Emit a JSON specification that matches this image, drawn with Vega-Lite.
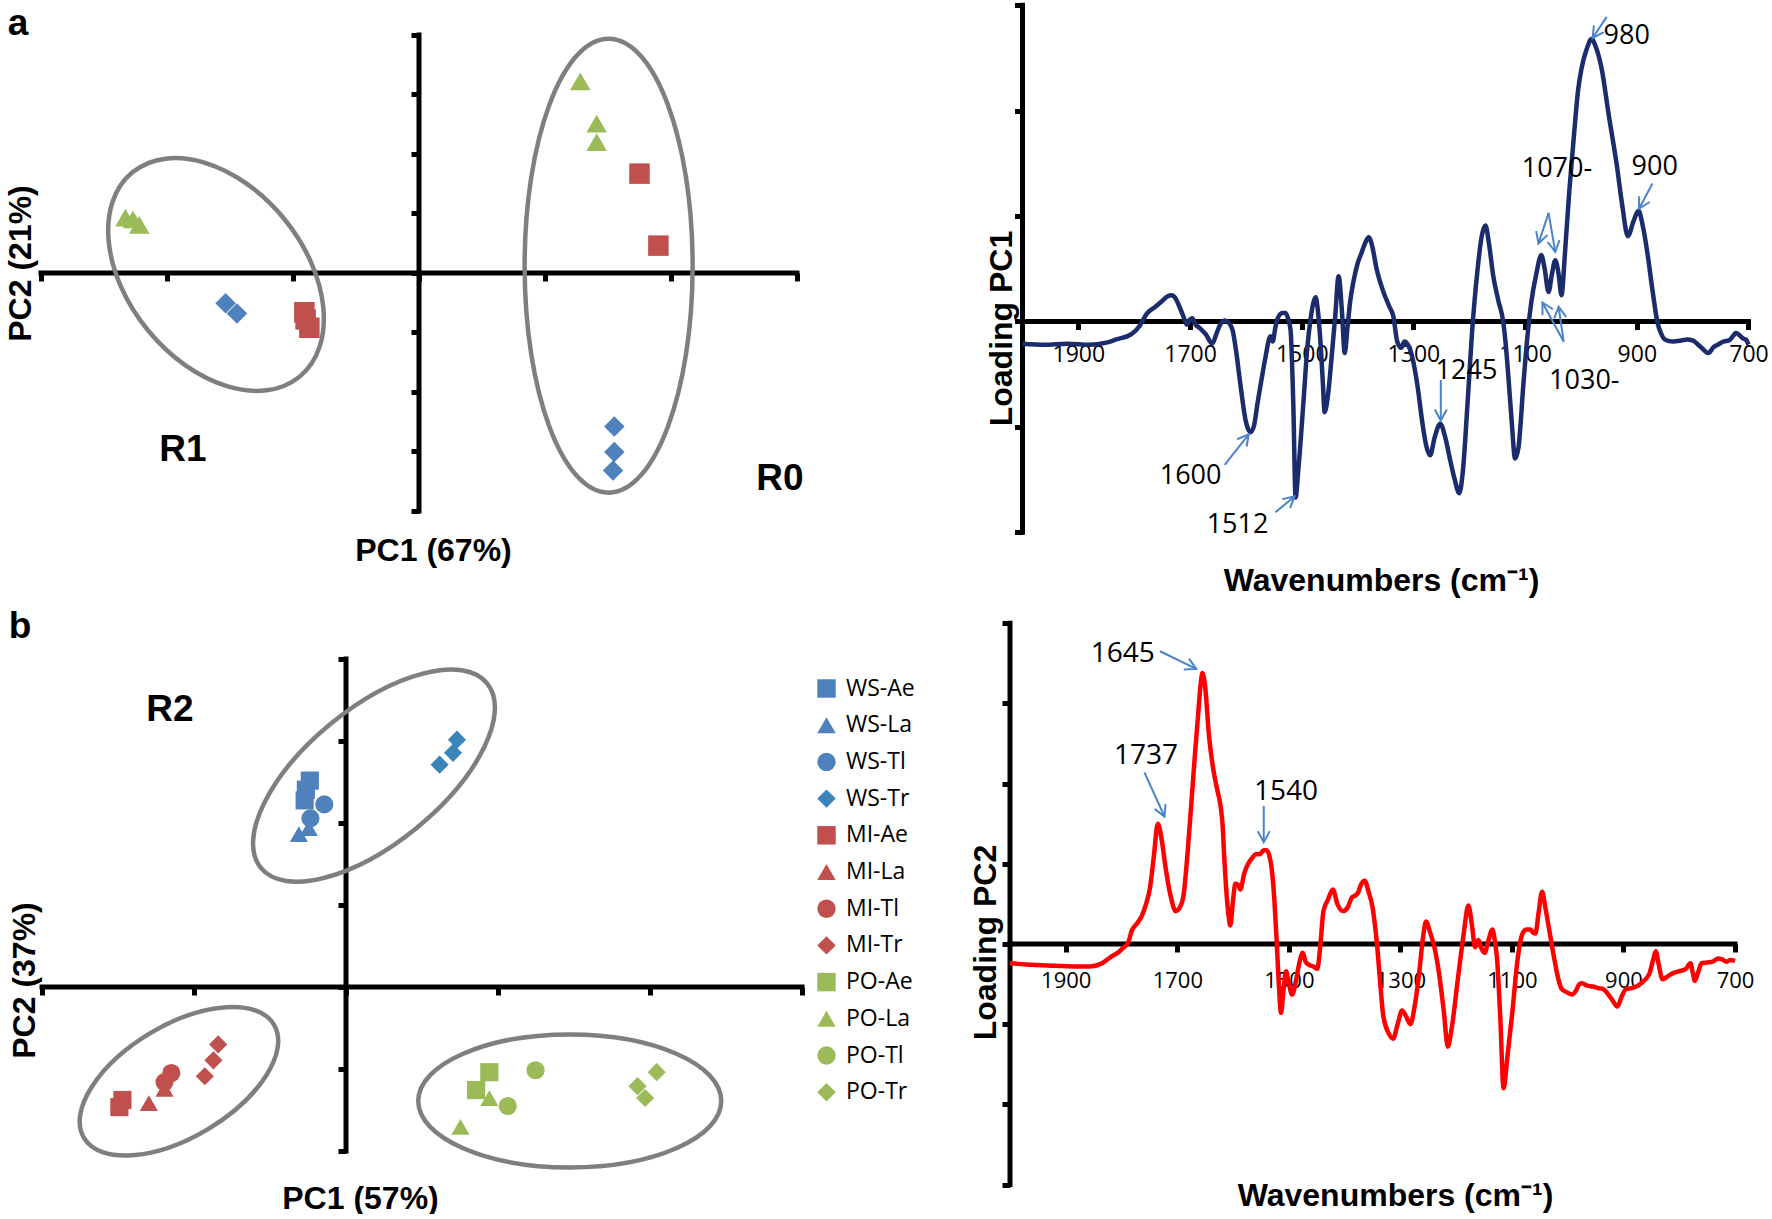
{
  "$schema": "https://vega.github.io/schema/vega-lite/v6.json",
  "background": "white",
  "padding": 0,
  "columns": 2,
  "bounds": "flush",
  "align": "each",
  "spacing": {"row": 75, "column": 195},
  "resolve": {"scale": {"color": "independent", "shape": "independent"}},
  "config": {"view": {"stroke": null}, "axis": {"grid": false}},
  "datasets": {
    "pcaA": [
      {"marker": "triangle", "pc1": -2.33, "pc2": 0.93},
      {"marker": "triangle", "pc1": -2.27, "pc2": 0.90},
      {"marker": "triangle", "pc1": -2.22, "pc2": 0.81},
      {"marker": "diamond", "pc1": -1.535, "pc2": -0.51},
      {"marker": "diamond", "pc1": -1.445, "pc2": -0.68},
      {"marker": "square", "pc1": -0.91, "pc2": -0.66},
      {"marker": "square", "pc1": -0.90, "pc2": -0.78},
      {"marker": "square", "pc1": -0.87, "pc2": -0.92},
      {"marker": "triangle", "pc1": 1.28, "pc2": 3.22},
      {"marker": "triangle", "pc1": 1.41, "pc2": 2.51},
      {"marker": "triangle", "pc1": 1.41, "pc2": 2.20},
      {"marker": "square", "pc1": 1.75, "pc2": 1.67},
      {"marker": "square", "pc1": 1.90, "pc2": 0.46},
      {"marker": "diamond", "pc1": 1.55, "pc2": -2.58},
      {"marker": "diamond", "pc1": 1.55, "pc2": -3.01},
      {"marker": "diamond", "pc1": 1.54, "pc2": -3.32}
    ],
    "pcaB": [
      {"series": "WS-Ae", "pc1": -0.238, "pc2": 2.517},
      {"series": "WS-Ae", "pc1": -0.264, "pc2": 2.406},
      {"series": "WS-Ae", "pc1": -0.272, "pc2": 2.276},
      {"series": "WS-La", "pc1": -0.310, "pc2": 1.865},
      {"series": "WS-La", "pc1": -0.245, "pc2": 1.937},
      {"series": "WS-Tl", "pc1": -0.143, "pc2": 2.227},
      {"series": "WS-Tl", "pc1": -0.234, "pc2": 2.057},
      {"series": "WS-Tr", "pc1": 0.730, "pc2": 3.016},
      {"series": "WS-Tr", "pc1": 0.704, "pc2": 2.856},
      {"series": "WS-Tr", "pc1": 0.616, "pc2": 2.711},
      {"series": "MI-Ae", "pc1": -1.471, "pc2": -1.378},
      {"series": "MI-Ae", "pc1": -1.491, "pc2": -1.465},
      {"series": "MI-La", "pc1": -1.297, "pc2": -1.417},
      {"series": "MI-La", "pc1": -1.194, "pc2": -1.243},
      {"series": "MI-Tl", "pc1": -1.149, "pc2": -1.049},
      {"series": "MI-Tl", "pc1": -1.194, "pc2": -1.160},
      {"series": "MI-Tr", "pc1": -0.841, "pc2": -0.700},
      {"series": "MI-Tr", "pc1": -0.872, "pc2": -0.894},
      {"series": "MI-Tr", "pc1": -0.929, "pc2": -1.088},
      {"series": "PO-Ae", "pc1": 0.943, "pc2": -1.039},
      {"series": "PO-Ae", "pc1": 0.856, "pc2": -1.257},
      {"series": "PO-La", "pc1": 0.753, "pc2": -1.707},
      {"series": "PO-La", "pc1": 0.943, "pc2": -1.354},
      {"series": "PO-Tl", "pc1": 1.247, "pc2": -1.015},
      {"series": "PO-Tl", "pc1": 1.064, "pc2": -1.451},
      {"series": "PO-Tr", "pc1": 2.044, "pc2": -1.039},
      {"series": "PO-Tr", "pc1": 1.918, "pc2": -1.209},
      {"series": "PO-Tr", "pc1": 1.968, "pc2": -1.354}
    ],
    "specA": [
      {"wn": 2000, "v": -0.21}, {"wn": 1960, "v": -0.22}, {"wn": 1920, "v": -0.21}, {"wn": 1880, "v": -0.22},
      {"wn": 1850, "v": -0.20}, {"wn": 1832, "v": -0.17}, {"wn": 1805, "v": -0.12}, {"wn": 1790, "v": -0.04},
      {"wn": 1778, "v": 0.07}, {"wn": 1762, "v": 0.14}, {"wn": 1751, "v": 0.19}, {"wn": 1740, "v": 0.24},
      {"wn": 1733, "v": 0.25}, {"wn": 1726, "v": 0.22}, {"wn": 1719, "v": 0.14}, {"wn": 1712, "v": 0.05},
      {"wn": 1706, "v": -0.03}, {"wn": 1700, "v": 0.02}, {"wn": 1696, "v": 0.03}, {"wn": 1690, "v": -0.03},
      {"wn": 1683, "v": -0.06}, {"wn": 1672, "v": -0.12}, {"wn": 1660, "v": -0.21}, {"wn": 1653, "v": -0.12},
      {"wn": 1647, "v": -0.04}, {"wn": 1638, "v": 0.01}, {"wn": 1633, "v": 0.0}, {"wn": 1624, "v": -0.08},
      {"wn": 1617, "v": -0.30}, {"wn": 1610, "v": -0.59}, {"wn": 1600, "v": -0.95}, {"wn": 1592, "v": -1.05},
      {"wn": 1586, "v": -1.00}, {"wn": 1579, "v": -0.77}, {"wn": 1572, "v": -0.55}, {"wn": 1565, "v": -0.34},
      {"wn": 1556, "v": -0.14}, {"wn": 1552, "v": -0.19}, {"wn": 1547, "v": -0.05}, {"wn": 1543, "v": 0.03},
      {"wn": 1535, "v": 0.08}, {"wn": 1529, "v": 0.08}, {"wn": 1524, "v": 0.02}, {"wn": 1520, "v": -0.08},
      {"wn": 1515, "v": -0.80}, {"wn": 1511, "v": -1.67}, {"wn": 1506, "v": -1.40}, {"wn": 1497, "v": -0.77},
      {"wn": 1490, "v": -0.25}, {"wn": 1484, "v": 0.03}, {"wn": 1478, "v": 0.20}, {"wn": 1475, "v": 0.23},
      {"wn": 1471, "v": 0.10}, {"wn": 1466, "v": -0.23}, {"wn": 1462, "v": -0.60}, {"wn": 1459, "v": -0.86},
      {"wn": 1453, "v": -0.70}, {"wn": 1447, "v": -0.37}, {"wn": 1440, "v": 0.05}, {"wn": 1434, "v": 0.43},
      {"wn": 1428, "v": 0.10}, {"wn": 1423, "v": -0.30}, {"wn": 1418, "v": -0.05}, {"wn": 1413, "v": 0.20},
      {"wn": 1407, "v": 0.39}, {"wn": 1400, "v": 0.55}, {"wn": 1393, "v": 0.65}, {"wn": 1386, "v": 0.75},
      {"wn": 1380, "v": 0.80}, {"wn": 1374, "v": 0.72}, {"wn": 1366, "v": 0.50}, {"wn": 1355, "v": 0.30},
      {"wn": 1343, "v": 0.14}, {"wn": 1336, "v": 0.05}, {"wn": 1329, "v": -0.19}, {"wn": 1322, "v": -0.25},
      {"wn": 1316, "v": -0.19}, {"wn": 1310, "v": -0.22}, {"wn": 1302, "v": -0.34}, {"wn": 1293, "v": -0.60},
      {"wn": 1284, "v": -0.96}, {"wn": 1277, "v": -1.18}, {"wn": 1270, "v": -1.27}, {"wn": 1262, "v": -1.10},
      {"wn": 1252, "v": -0.97}, {"wn": 1243, "v": -1.10}, {"wn": 1234, "v": -1.32}, {"wn": 1226, "v": -1.50},
      {"wn": 1218, "v": -1.63}, {"wn": 1212, "v": -1.45}, {"wn": 1203, "v": -0.77}, {"wn": 1195, "v": -0.10},
      {"wn": 1185, "v": 0.50}, {"wn": 1178, "v": 0.80}, {"wn": 1171, "v": 0.91}, {"wn": 1165, "v": 0.75},
      {"wn": 1157, "v": 0.43}, {"wn": 1148, "v": 0.20}, {"wn": 1139, "v": -0.01}, {"wn": 1135, "v": -0.20},
      {"wn": 1130, "v": -0.52}, {"wn": 1124, "v": -0.95}, {"wn": 1118, "v": -1.30}, {"wn": 1112, "v": -1.20},
      {"wn": 1103, "v": -0.59}, {"wn": 1096, "v": -0.15}, {"wn": 1089, "v": 0.18}, {"wn": 1080, "v": 0.45},
      {"wn": 1071, "v": 0.63}, {"wn": 1065, "v": 0.50}, {"wn": 1058, "v": 0.28}, {"wn": 1052, "v": 0.45},
      {"wn": 1046, "v": 0.58}, {"wn": 1040, "v": 0.45}, {"wn": 1035, "v": 0.25}, {"wn": 1028, "v": 0.70},
      {"wn": 1021, "v": 1.23}, {"wn": 1012, "v": 1.80}, {"wn": 1005, "v": 2.20}, {"wn": 999, "v": 2.40},
      {"wn": 990, "v": 2.58}, {"wn": 981, "v": 2.68}, {"wn": 973, "v": 2.60}, {"wn": 963, "v": 2.40},
      {"wn": 950, "v": 1.95}, {"wn": 936, "v": 1.49}, {"wn": 926, "v": 1.10}, {"wn": 916, "v": 0.81},
      {"wn": 906, "v": 0.95}, {"wn": 897, "v": 1.05}, {"wn": 889, "v": 0.90}, {"wn": 881, "v": 0.65},
      {"wn": 872, "v": 0.30}, {"wn": 863, "v": -0.01}, {"wn": 856, "v": -0.12}, {"wn": 850, "v": -0.17},
      {"wn": 835, "v": -0.19}, {"wn": 820, "v": -0.18}, {"wn": 810, "v": -0.17}, {"wn": 800, "v": -0.18},
      {"wn": 790, "v": -0.22}, {"wn": 780, "v": -0.27}, {"wn": 772, "v": -0.30}, {"wn": 762, "v": -0.24},
      {"wn": 755, "v": -0.22}, {"wn": 745, "v": -0.19}, {"wn": 735, "v": -0.18}, {"wn": 728, "v": -0.14},
      {"wn": 723, "v": -0.11}, {"wn": 716, "v": -0.13}, {"wn": 710, "v": -0.16}, {"wn": 705, "v": -0.17},
      {"wn": 700, "v": -0.22}
    ],
    "specB": [
      {"wn": 2000, "v": -0.24}, {"wn": 1960, "v": -0.26}, {"wn": 1920, "v": -0.27}, {"wn": 1880, "v": -0.28},
      {"wn": 1856, "v": -0.28}, {"wn": 1835, "v": -0.24}, {"wn": 1819, "v": -0.16}, {"wn": 1805, "v": -0.10},
      {"wn": 1796, "v": -0.04}, {"wn": 1788, "v": 0.02}, {"wn": 1782, "v": 0.16}, {"wn": 1772, "v": 0.26},
      {"wn": 1763, "v": 0.36}, {"wn": 1756, "v": 0.50}, {"wn": 1749, "v": 0.70}, {"wn": 1742, "v": 1.10},
      {"wn": 1735, "v": 1.50}, {"wn": 1728, "v": 1.30}, {"wn": 1721, "v": 0.95}, {"wn": 1712, "v": 0.60},
      {"wn": 1703, "v": 0.41}, {"wn": 1696, "v": 0.45}, {"wn": 1689, "v": 0.60}, {"wn": 1682, "v": 1.10},
      {"wn": 1675, "v": 1.74}, {"wn": 1668, "v": 2.40}, {"wn": 1663, "v": 2.83}, {"wn": 1658, "v": 3.25},
      {"wn": 1655, "v": 3.38}, {"wn": 1650, "v": 3.20}, {"wn": 1643, "v": 2.58}, {"wn": 1636, "v": 2.20},
      {"wn": 1629, "v": 1.94}, {"wn": 1622, "v": 1.70}, {"wn": 1619, "v": 1.50}, {"wn": 1616, "v": 1.10},
      {"wn": 1613, "v": 0.75}, {"wn": 1608, "v": 0.35}, {"wn": 1605, "v": 0.23}, {"wn": 1600, "v": 0.55},
      {"wn": 1596, "v": 0.75}, {"wn": 1591, "v": 0.74}, {"wn": 1587, "v": 0.68}, {"wn": 1580, "v": 0.88},
      {"wn": 1573, "v": 1.00}, {"wn": 1566, "v": 1.07}, {"wn": 1559, "v": 1.12}, {"wn": 1552, "v": 1.12},
      {"wn": 1545, "v": 1.17}, {"wn": 1540, "v": 1.17}, {"wn": 1535, "v": 1.10}, {"wn": 1531, "v": 0.95},
      {"wn": 1526, "v": 0.55}, {"wn": 1522, "v": 0.06}, {"wn": 1518, "v": -0.50}, {"wn": 1514, "v": -0.86},
      {"wn": 1510, "v": -0.60}, {"wn": 1505, "v": -0.34}, {"wn": 1500, "v": -0.50}, {"wn": 1494, "v": -0.63},
      {"wn": 1487, "v": -0.45}, {"wn": 1480, "v": -0.20}, {"wn": 1475, "v": -0.11}, {"wn": 1470, "v": -0.22},
      {"wn": 1464, "v": -0.26}, {"wn": 1456, "v": -0.28}, {"wn": 1449, "v": -0.31}, {"wn": 1444, "v": -0.05},
      {"wn": 1438, "v": 0.41}, {"wn": 1430, "v": 0.55}, {"wn": 1421, "v": 0.68}, {"wn": 1413, "v": 0.50},
      {"wn": 1403, "v": 0.41}, {"wn": 1395, "v": 0.45}, {"wn": 1387, "v": 0.58}, {"wn": 1382, "v": 0.60},
      {"wn": 1376, "v": 0.64}, {"wn": 1370, "v": 0.75}, {"wn": 1364, "v": 0.79}, {"wn": 1357, "v": 0.65},
      {"wn": 1350, "v": 0.46}, {"wn": 1342, "v": 0.00}, {"wn": 1336, "v": -0.50}, {"wn": 1331, "v": -0.88},
      {"wn": 1322, "v": -1.10}, {"wn": 1313, "v": -1.18}, {"wn": 1305, "v": -1.00}, {"wn": 1297, "v": -0.83},
      {"wn": 1290, "v": -0.90}, {"wn": 1282, "v": -1.00}, {"wn": 1275, "v": -0.80}, {"wn": 1266, "v": -0.34},
      {"wn": 1260, "v": 0.05}, {"wn": 1254, "v": 0.28}, {"wn": 1247, "v": 0.15}, {"wn": 1239, "v": -0.04},
      {"wn": 1230, "v": -0.40}, {"wn": 1222, "v": -0.85}, {"wn": 1215, "v": -1.28}, {"wn": 1208, "v": -1.05},
      {"wn": 1197, "v": -0.44}, {"wn": 1187, "v": 0.10}, {"wn": 1178, "v": 0.48}, {"wn": 1172, "v": 0.25},
      {"wn": 1166, "v": -0.04}, {"wn": 1160, "v": 0.05}, {"wn": 1155, "v": -0.05}, {"wn": 1149, "v": -0.11},
      {"wn": 1142, "v": 0.05}, {"wn": 1135, "v": 0.18}, {"wn": 1131, "v": 0.05}, {"wn": 1127, "v": -0.16},
      {"wn": 1121, "v": -0.90}, {"wn": 1115, "v": -1.80}, {"wn": 1108, "v": -1.40}, {"wn": 1099, "v": -0.83},
      {"wn": 1090, "v": -0.20}, {"wn": 1081, "v": 0.13}, {"wn": 1074, "v": 0.18}, {"wn": 1067, "v": 0.18},
      {"wn": 1062, "v": 0.14}, {"wn": 1058, "v": 0.13}, {"wn": 1052, "v": 0.40}, {"wn": 1046, "v": 0.65},
      {"wn": 1040, "v": 0.45}, {"wn": 1034, "v": 0.21}, {"wn": 1025, "v": -0.15}, {"wn": 1018, "v": -0.40},
      {"wn": 1011, "v": -0.56}, {"wn": 1002, "v": -0.60}, {"wn": 992, "v": -0.63}, {"wn": 985, "v": -0.58},
      {"wn": 979, "v": -0.50}, {"wn": 974, "v": -0.49}, {"wn": 965, "v": -0.52}, {"wn": 955, "v": -0.53},
      {"wn": 945, "v": -0.55}, {"wn": 937, "v": -0.56}, {"wn": 925, "v": -0.65}, {"wn": 918, "v": -0.72},
      {"wn": 911, "v": -0.78}, {"wn": 903, "v": -0.65}, {"wn": 895, "v": -0.56}, {"wn": 885, "v": -0.55},
      {"wn": 872, "v": -0.51}, {"wn": 862, "v": -0.45}, {"wn": 853, "v": -0.36}, {"wn": 847, "v": -0.20},
      {"wn": 842, "v": -0.09}, {"wn": 837, "v": -0.25}, {"wn": 830, "v": -0.44}, {"wn": 820, "v": -0.40},
      {"wn": 810, "v": -0.36}, {"wn": 800, "v": -0.34}, {"wn": 788, "v": -0.31}, {"wn": 780, "v": -0.24},
      {"wn": 776, "v": -0.35}, {"wn": 772, "v": -0.46}, {"wn": 766, "v": -0.35}, {"wn": 760, "v": -0.24},
      {"wn": 750, "v": -0.23}, {"wn": 740, "v": -0.22}, {"wn": 730, "v": -0.18}, {"wn": 724, "v": -0.19},
      {"wn": 715, "v": -0.22}, {"wn": 708, "v": -0.20}, {"wn": 700, "v": -0.21}
    ],
    "arrowsA": [
      {"wn": 979, "v": 2.69, "wn2": 954, "v2": 2.89, "dir": 124},
      {"wn": 896, "v": 1.07, "wn2": 872, "v2": 1.31, "dir": 119},
      {"wn": 1076, "v": 0.74, "wn2": 1058, "v2": 1.03, "dir": 108},
      {"wn": 1046, "v": 0.66, "wn2": 1058, "v2": 1.03, "dir": 81},
      {"wn": 1069, "v": 0.18, "wn2": 1031, "v2": -0.19, "dir": -119},
      {"wn": 1040, "v": 0.14, "wn2": 1031, "v2": -0.19, "dir": -98},
      {"wn": 1251, "v": -0.94, "wn2": 1251, "v2": -0.555, "dir": 90},
      {"wn": 1595, "v": -1.07, "wn2": 1638, "v2": -1.36, "dir": -52},
      {"wn": 1513, "v": -1.66, "wn2": 1547, "v2": -1.81, "dir": -41}
    ],
    "arrowsB": [
      {"wn": 1666, "v": 3.43, "wn2": 1731, "v2": 3.65, "dir": 26},
      {"wn": 1723, "v": 1.59, "wn2": 1759, "v2": 2.14, "dir": 66},
      {"wn": 1545, "v": 1.27, "wn2": 1545, "v2": 1.72, "dir": 90}
    ],
    "notesA": [
      {"wn": 918, "v": 2.71, "label": "980"},
      {"wn": 868, "v": 1.47, "label": "900"},
      {"wn": 1043, "v": 1.445, "label": "1070-"},
      {"wn": 994, "v": -0.56, "label": "1030-"},
      {"wn": 1205, "v": -0.47, "label": "1245"},
      {"wn": 1699, "v": -1.47, "label": "1600"},
      {"wn": 1615, "v": -1.93, "label": "1512"}
    ],
    "notesB": [
      {"wn": 1798, "v": 3.62, "label": "1645"},
      {"wn": 1756, "v": 2.34, "label": "1737"},
      {"wn": 1505, "v": 1.89, "label": "1540"}
    ]
  },
  "concat": [
    {
      "width": 810,
      "height": 540,
      "encoding": {
        "x": {"field": "pc1", "type": "quantitative",
          "scale": {"domain": [-3.3254, 3.1032], "nice": false, "zero": false},
          "axis": {"orient": "bottom", "offset": -267, "domain": false, "labels": false,
            "values": [-3, -2, -1, 0, 1, 2, 3], "tickSize": 8, "tickWidth": 5, "tickColor": "black", "grid": false,
            "title": "PC1 (67%)", "titleFont": "Liberation Sans", "titleFontSize": 32, "titleFontWeight": "bold", "titleColor": "black",
            "titleX": 433, "titleY": 277, "titleAlign": "center", "titleBaseline": "middle", "titleAngle": 0}},
        "y": {"field": "pc2", "type": "quantitative",
          "scale": {"domain": [-4.4874, 4.5882], "nice": false, "zero": false},
          "axis": {"orient": "left", "offset": -419, "domain": false, "labels": false,
            "values": [-4, -3, -2, -1, 0, 1, 2, 3, 4], "tickSize": 8, "tickWidth": 5, "tickColor": "black", "grid": false,
            "title": "PC2 (21%)", "titleFont": "Liberation Sans", "titleFontSize": 32, "titleFontWeight": "bold", "titleColor": "black",
            "titleX": -399, "titleY": 263, "titleAlign": "center", "titleBaseline": "middle", "titleAngle": 270}}
      },
      "layer": [
        {
          "data": {"values": [{"pc1": -3, "pc1b": 3, "pc2": 0, "pc2b": 0}, {"pc1": 0, "pc1b": 0, "pc2": -4, "pc2b": 4}]},
          "mark": {"type": "rule", "color": "black", "strokeWidth": 5, "strokeCap": "square"},
          "encoding": {"x2": {"field": "pc1b"}, "y2": {"field": "pc2b"}}
        },
        {
          "data": {"values": [{"pc1": -1.611, "pc2": -0.025}]},
          "mark": {"type": "point", "shape": "M -132,0 A 132,88 0 1,0 132,0 A 132,88 0 1,0 -132,0 Z", "size": 4, "angle": 50.7,
            "filled": false, "color": "#7f7f7f", "strokeWidth": 4.5, "opacity": 1},
          "encoding": {}
        },
        {
          "data": {"values": [{"pc1": 1.505, "pc2": 0.123}]},
          "mark": {"type": "point", "shape": "M -84,0 A 84,227 0 1,0 84,0 A 84,227 0 1,0 -84,0 Z", "size": 4, "angle": 0,
            "filled": false, "color": "#7f7f7f", "strokeWidth": 4.5, "opacity": 1},
          "encoding": {}
        },
        {
          "data": {"name": "pcaA"},
          "mark": {"type": "point", "filled": true, "size": 420, "opacity": 1},
          "encoding": {
            "color": {"field": "marker", "type": "nominal", "legend": null,
              "scale": {"domain": ["triangle", "diamond", "square"], "range": ["#9BBB59", "#4F81BD", "#C0504D"]}},
            "shape": {"field": "marker", "type": "nominal", "legend": null,
              "scale": {"domain": ["triangle", "diamond", "square"], "range": ["triangle-up", "diamond", "square"]}}
          }
        },
        {
          "data": {"values": [
            {"pc1": -3.1825, "pc2": 4.18, "label": "a"}
          ]},
          "mark": {"type": "text", "font": "Liberation Sans", "fontWeight": "bold", "fontSize": 37, "color": "black", "align": "center", "baseline": "middle"},
          "encoding": {"text": {"field": "label"}}
        },
        {
          "data": {"values": [
            {"pc1": -1.873, "pc2": -2.975, "label": "R1"},
            {"pc1": 2.865, "pc2": -3.462, "label": "R0"}
          ]},
          "mark": {"type": "text", "font": "Liberation Sans", "fontWeight": "bold", "fontSize": 37, "color": "black", "align": "center", "baseline": "middle"},
          "encoding": {"text": {"field": "label"}}
        }
      ]
    },
    {
      "width": 755,
      "height": 540,
      "encoding": {
        "x": {"field": "wn", "type": "quantitative",
          "scale": {"domain": [679.4, 2031.34], "reverse": true, "nice": false, "zero": false},
          "axis": {"orient": "bottom", "offset": -218.5, "domain": false, "labels": true, "format": "d",
            "values": [1900, 1700, 1500, 1300, 1100, 900, 700],
            "labelFont": "Open Sans", "labelFontSize": 23, "labelColor": "black", "labelPadding": 14, "labelOverlap": false, "labelFlush": false, "labelAngle": 0,
            "tickSize": 8, "tickWidth": 5, "tickColor": "black", "grid": false,
            "title": "Wavenumbers (cm⁻¹)", "titleFont": "Liberation Sans", "titleFontSize": 32, "titleFontWeight": "bold", "titleColor": "black",
            "titleX": 376, "titleY": 259, "titleAlign": "center", "titleBaseline": "middle", "titleAngle": 0}},
        "y": {"field": "v", "type": "quantitative",
          "scale": {"domain": [-2.0731, 3.0503], "nice": false, "zero": false},
          "axis": {"orient": "left", "offset": -17.5, "domain": false, "labels": false,
            "values": [-2, -1, 0, 1, 2, 3], "tickSize": 8, "tickWidth": 5, "tickColor": "black", "grid": false,
            "title": "Loading PC1", "titleFont": "Liberation Sans", "titleFontSize": 32, "titleFontWeight": "bold", "titleColor": "black",
            "titleX": -21, "titleY": 328, "titleAlign": "center", "titleBaseline": "middle", "titleAngle": 270}}
      },
      "layer": [
        {
          "data": {"values": [{"wn": 2000, "wn2": 700, "v": 0, "v2": 0}, {"wn": 2000, "wn2": 2000, "v": -2, "v2": 3}]},
          "mark": {"type": "rule", "color": "black", "strokeWidth": 5, "strokeCap": "square"},
          "encoding": {"x2": {"field": "wn2"}, "y2": {"field": "v2"}}
        },
        {
          "data": {"name": "specA"},
          "mark": {"type": "line", "color": "#1B2B6B", "strokeWidth": 4.5, "interpolate": "monotone"},
          "encoding": {}
        },
        {
          "data": {"name": "arrowsA"},
          "mark": {"type": "rule", "color": "#4A83C9", "strokeWidth": 2},
          "encoding": {"x2": {"field": "wn2"}, "y2": {"field": "v2"}}
        },
        {
          "data": {"name": "arrowsA"},
          "mark": {"type": "point", "shape": "M -11,-6 L 0,0 L -11,6", "size": 4, "filled": false, "color": "#4A83C9", "strokeWidth": 2, "opacity": 1},
          "encoding": {"angle": {"field": "dir", "type": "quantitative", "scale": null}}
        },
        {
          "data": {"name": "notesA"},
          "mark": {"type": "text", "font": "Open Sans", "fontSize": 27, "color": "black", "align": "center", "baseline": "middle"},
          "encoding": {"text": {"field": "label"}}
        }
      ]
    },
    {
      "width": 810,
      "height": 580,
      "encoding": {
        "x": {"field": "pc1", "type": "quantitative",
          "scale": {"domain": [-2.2763, 3.0526], "nice": false, "zero": false},
          "axis": {"orient": "bottom", "offset": -208, "domain": false, "labels": false,
            "values": [-2, -1, 0, 1, 2, 3], "tickSize": 8, "tickWidth": 5, "tickColor": "black", "grid": false,
            "title": "PC1 (57%)", "titleFont": "Liberation Sans", "titleFontSize": 32, "titleFontWeight": "bold", "titleColor": "black",
            "titleX": 360, "titleY": 211, "titleAlign": "center", "titleBaseline": "middle", "titleAngle": 0}},
        "y": {"field": "pc2", "type": "quantitative",
          "scale": {"domain": [-2.5366, 4.5366], "nice": false, "zero": false},
          "axis": {"orient": "left", "offset": -346, "domain": false, "labels": false,
            "values": [-2, -1, 0, 1, 2, 3, 4], "tickSize": 8, "tickWidth": 5, "tickColor": "black", "grid": false,
            "title": "PC2 (37%)", "titleFont": "Liberation Sans", "titleFontSize": 32, "titleFontWeight": "bold", "titleColor": "black",
            "titleX": -322, "titleY": 365, "titleAlign": "center", "titleBaseline": "middle", "titleAngle": 270}}
      },
      "layer": [
        {
          "data": {"values": [{"pc1": -2, "pc1b": 3, "pc2": 0, "pc2b": 0}, {"pc1": 0, "pc1b": 0, "pc2": -2, "pc2b": 4}]},
          "mark": {"type": "rule", "color": "black", "strokeWidth": 5, "strokeCap": "square"},
          "encoding": {"x2": {"field": "pc1b"}, "y2": {"field": "pc2b"}}
        },
        {
          "data": {"values": [{"pc1": 0.184, "pc2": 2.578}]},
          "mark": {"type": "point", "shape": "M -146,0 A 146,67.5 0 1,0 146,0 A 146,67.5 0 1,0 -146,0 Z", "size": 4, "angle": -39.2,
            "filled": false, "color": "#7f7f7f", "strokeWidth": 4.5, "opacity": 1},
          "encoding": {}
        },
        {
          "data": {"values": [{"pc1": -1.099, "pc2": -1.149}]},
          "mark": {"type": "point", "shape": "M -110.6,0 A 110.6,56 0 1,0 110.6,0 A 110.6,56 0 1,0 -110.6,0 Z", "size": 4, "angle": -30.8,
            "filled": false, "color": "#7f7f7f", "strokeWidth": 4.5, "opacity": 1},
          "encoding": {}
        },
        {
          "data": {"values": [{"pc1": 1.472, "pc2": -1.39}]},
          "mark": {"type": "point", "shape": "M -151.5,0 A 151.5,66.5 0 1,0 151.5,0 A 151.5,66.5 0 1,0 -151.5,0 Z", "size": 4, "angle": 0,
            "filled": false, "color": "#7f7f7f", "strokeWidth": 4.5, "opacity": 1},
          "encoding": {}
        },
        {
          "data": {"name": "pcaB"},
          "mark": {"type": "point", "filled": true, "size": 330, "opacity": 1},
          "encoding": {
            "color": {"field": "series", "type": "nominal",
              "scale": {"domain": ["WS-Ae", "WS-La", "WS-Tl", "WS-Tr", "MI-Ae", "MI-La", "MI-Tl", "MI-Tr", "PO-Ae", "PO-La", "PO-Tl", "PO-Tr"],
                "range": ["#4F81BD", "#4F81BD", "#4F81BD", "#3A84B8", "#C0504D", "#C0504D", "#C0504D", "#C0504D", "#9BBB59", "#9BBB59", "#9BBB59", "#9BBB59"]},
              "legend": {"title": null, "orient": "none", "legendX": 815, "legendY": 62, "direction": "vertical",
                "labelFont": "Open Sans", "labelFontSize": 23, "labelColor": "black", "symbolSize": 340, "rowPadding": 12.7, "labelOffset": 8, "padding": 0, "symbolStrokeWidth": 0}},
            "shape": {"field": "series", "type": "nominal",
              "scale": {"domain": ["WS-Ae", "WS-La", "WS-Tl", "WS-Tr", "MI-Ae", "MI-La", "MI-Tl", "MI-Tr", "PO-Ae", "PO-La", "PO-Tl", "PO-Tr"],
                "range": ["square", "triangle-up", "circle", "diamond", "square", "triangle-up", "circle", "diamond", "square", "triangle-up", "circle", "diamond"]},
              "legend": {"title": null, "orient": "none", "legendX": 815, "legendY": 62, "direction": "vertical",
                "labelFont": "Open Sans", "labelFontSize": 23, "labelColor": "black", "symbolSize": 340, "rowPadding": 12.7, "labelOffset": 8, "padding": 0, "symbolStrokeWidth": 0}}
          }
        },
        {
          "data": {"values": [
            {"pc1": -2.1447, "pc2": 4.39, "label": "b"}
          ]},
          "mark": {"type": "text", "font": "Liberation Sans", "fontWeight": "bold", "fontSize": 37, "color": "black", "align": "center", "baseline": "middle"},
          "encoding": {"text": {"field": "label"}}
        },
        {
          "data": {"values": [
            {"pc1": -1.158, "pc2": 3.378, "label": "R2"}
          ]},
          "mark": {"type": "text", "font": "Liberation Sans", "fontWeight": "bold", "fontSize": 37, "color": "black", "align": "center", "baseline": "middle"},
          "encoding": {"text": {"field": "label"}}
        }
      ]
    },
    {
      "width": 755,
      "height": 580,
      "encoding": {
        "x": {"field": "wn", "type": "quantitative",
          "scale": {"domain": [655.2, 2008.97], "reverse": true, "nice": false, "zero": false},
          "axis": {"orient": "bottom", "offset": -251, "domain": false, "labels": true, "format": "d",
            "values": [1900, 1700, 1500, 1300, 1100, 900, 700],
            "labelFont": "Open Sans", "labelFontSize": 22, "labelColor": "black", "labelPadding": 18, "labelOverlap": false, "labelFlush": false, "labelAngle": 0,
            "tickSize": 8, "tickWidth": 5, "tickColor": "black", "grid": false,
            "title": "Wavenumbers (cm⁻¹)", "titleFont": "Liberation Sans", "titleFontSize": 32, "titleFontWeight": "bold", "titleColor": "black",
            "titleX": 390, "titleY": 251, "titleAlign": "center", "titleBaseline": "middle", "titleAngle": 0}},
        "y": {"field": "v", "type": "quantitative",
          "scale": {"domain": [-3.1297, 4.1022], "nice": false, "zero": false},
          "axis": {"orient": "left", "offset": -5, "domain": false, "labels": false,
            "values": [-3, -2, -1, 0, 1, 2, 3, 4], "tickSize": 8, "tickWidth": 5, "tickColor": "black", "grid": false,
            "title": "Loading PC2", "titleFont": "Liberation Sans", "titleFontSize": 32, "titleFontWeight": "bold", "titleColor": "black",
            "titleX": -25, "titleY": 327, "titleAlign": "center", "titleBaseline": "middle", "titleAngle": 270}}
      },
      "layer": [
        {
          "data": {"values": [{"wn": 2000, "wn2": 700, "v": 0, "v2": 0}, {"wn": 2000, "wn2": 2000, "v": -3, "v2": 4}]},
          "mark": {"type": "rule", "color": "black", "strokeWidth": 5, "strokeCap": "square"},
          "encoding": {"x2": {"field": "wn2"}, "y2": {"field": "v2"}}
        },
        {
          "data": {"name": "specB"},
          "mark": {"type": "line", "color": "#FF0000", "strokeWidth": 4.5, "interpolate": "monotone"},
          "encoding": {}
        },
        {
          "data": {"name": "arrowsB"},
          "mark": {"type": "rule", "color": "#4A83C9", "strokeWidth": 2},
          "encoding": {"x2": {"field": "wn2"}, "y2": {"field": "v2"}}
        },
        {
          "data": {"name": "arrowsB"},
          "mark": {"type": "point", "shape": "M -11,-6 L 0,0 L -11,6", "size": 4, "filled": false, "color": "#4A83C9", "strokeWidth": 2, "opacity": 1},
          "encoding": {"angle": {"field": "dir", "type": "quantitative", "scale": null}}
        },
        {
          "data": {"name": "notesB"},
          "mark": {"type": "text", "font": "Open Sans", "fontSize": 28, "color": "black", "align": "center", "baseline": "middle"},
          "encoding": {"text": {"field": "label"}}
        }
      ]
    }
  ]
}
